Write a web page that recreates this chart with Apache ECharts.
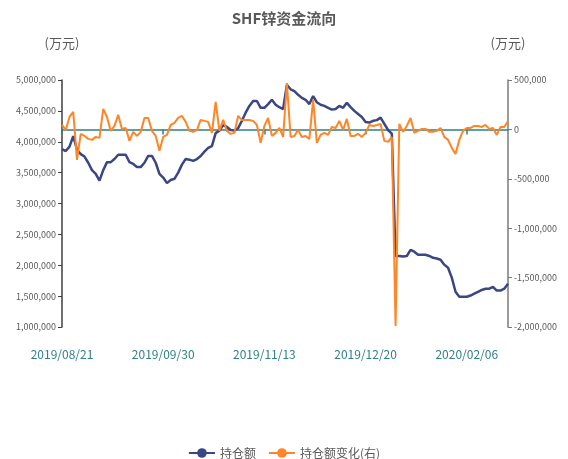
<!DOCTYPE html>
<html>
<head>
<meta charset="utf-8">
<script src="https://cdn.jsdelivr.net/npm/echarts@6/dist/echarts.min.js"></script>
<style>
html,body{margin:0;padding:0;background:#fff;}
#c{width:568px;height:459px;}
</style>
</head>
<body>
<div id="c"></div>
<script>
const dates = [
'2019/08/21','2019/08/22','2019/08/23','2019/08/26','2019/08/27','2019/08/28','2019/08/29','2019/08/30',
'2019/09/02','2019/09/03','2019/09/04','2019/09/05','2019/09/06','2019/09/09','2019/09/10','2019/09/11','2019/09/12',
'2019/09/16','2019/09/17','2019/09/18','2019/09/19','2019/09/20','2019/09/23','2019/09/24','2019/09/25','2019/09/26','2019/09/27','2019/09/30',
'2019/10/08','2019/10/09','2019/10/10','2019/10/11','2019/10/14','2019/10/15','2019/10/16','2019/10/17','2019/10/18',
'2019/10/21','2019/10/22','2019/10/23','2019/10/24','2019/10/25','2019/10/28','2019/10/29','2019/10/30','2019/10/31',
'2019/11/01','2019/11/04','2019/11/05','2019/11/06','2019/11/07','2019/11/08','2019/11/11','2019/11/12','2019/11/13',
'2019/11/14','2019/11/15','2019/11/18','2019/11/19','2019/11/20','2019/11/21','2019/11/22','2019/11/25','2019/11/26','2019/11/27','2019/11/28','2019/11/29',
'2019/12/02','2019/12/03','2019/12/04','2019/12/05','2019/12/06','2019/12/09','2019/12/10','2019/12/11','2019/12/12','2019/12/13',
'2019/12/16','2019/12/17','2019/12/18','2019/12/19','2019/12/20','2019/12/23','2019/12/24','2019/12/25','2019/12/26','2019/12/27','2019/12/30','2019/12/31',
'2020/01/02','2020/01/03','2020/01/06','2020/01/07','2020/01/08','2020/01/09','2020/01/10','2020/01/13','2020/01/14','2020/01/15','2020/01/16','2020/01/17',
'2020/01/20','2020/01/21','2020/01/22','2020/01/23','2020/02/03','2020/02/04','2020/02/05','2020/02/06',
'2020/02/07','2020/02/10','2020/02/11','2020/02/12','2020/02/13','2020/02/14','2020/02/17','2020/02/18','2020/02/19','2020/02/20','2020/02/21'
];

const holding = [
3880000,3850000,3920000,4090000,3870000,3800000,3760000,3660000,3540000,3480000,
3370000,3540000,3670000,3670000,3720000,3790000,3790000,3790000,3670000,3640000,
3590000,3590000,3660000,3770000,3770000,3660000,3480000,3420000,3330000,3380000,
3400000,3500000,3630000,3720000,3710000,3690000,3720000,3770000,3840000,3900000,
3930000,4140000,4180000,4270000,4240000,4190000,4180000,4220000,4340000,4470000,
4580000,4660000,4660000,4550000,4550000,4610000,4680000,4600000,4560000,4530000,
4920000,4850000,4820000,4760000,4710000,4680000,4610000,4740000,4640000,4600000,
4580000,4550000,4520000,4530000,4580000,4550000,4630000,4560000,4500000,4450000,
4400000,4320000,4310000,4340000,4350000,4390000,4290000,4190000,4130000,2150000,
2150000,2140000,2150000,2250000,2220000,2170000,2170000,2170000,2150000,2120000,
2110000,2090000,2010000,1960000,1800000,1570000,1490000,1490000,1490000,1510000,
1540000,1570000,1600000,1620000,1620000,1650000,1590000,1590000,1620000,1700000
];

const holdingChange = [
45000,-5000,126000,177000,-308000,-45000,-66000,-96000,-106000,-76000,
-86000,207000,126000,-15000,35000,147000,5000,15000,-116000,-25000,
-66000,-25000,116000,116000,-15000,-66000,-217000,-76000,-56000,45000,
66000,116000,136000,76000,-15000,-25000,-5000,96000,86000,76000,
-35000,278000,-15000,96000,-15000,-45000,-35000,136000,96000,96000,
96000,86000,45000,-136000,35000,116000,-66000,-35000,15000,-76000,
470000,-76000,-66000,-5000,-76000,-66000,-96000,298000,-136000,-56000,
-35000,-56000,25000,15000,86000,-5000,106000,-66000,-66000,-45000,
-76000,-35000,45000,35000,45000,56000,-116000,-126000,-76000,-1990000,
56000,-25000,35000,116000,-35000,-15000,5000,5000,-25000,-25000,
-15000,15000,-76000,-106000,-187000,-248000,-106000,-15000,15000,15000,
35000,35000,25000,45000,5000,15000,-56000,25000,25000,86000
];

const seriesNames = ['持仓额','持仓额变化(右)'];
const titleText = 'SHF锌资金流向';
const unitName = '(万元)';

const fmt = v => String(v).replace(/\B(?=(\d{3})+(?!\d))/g, ',');
const FONT = '"Noto Sans CJK SC", "Noto Sans", sans-serif';
const GRAY = '#595959';
const TEAL = '#2f8088';

const chart = echarts.init(document.getElementById('c'), null, {renderer:'canvas'});
chart.setOption({
  animation: false,
  backgroundColor: '#ffffff',
  textStyle: {fontFamily: FONT},
  title: {
    text: titleText,
    left: 'center',
    top: 6,
    textStyle: {fontSize: 15, fontWeight: 'bold', color: GRAY, fontFamily: FONT}
  },
  legend: {
    top: 442,
    left: 'center',
    itemWidth: 26,
    itemHeight: 12,
    itemGap: 12,
    textStyle: {fontSize: 12, color: GRAY, fontFamily: FONT},
    data: seriesNames
  },
  grid: {left: 62, right: 60, top: 80, bottom: 132, containLabel: false},
  xAxis: [
    {
      type: 'category',
      data: dates,
      boundaryGap: false,
      position: 'bottom',
      axisLine: {show: false, onZero: false},
      axisTick: {show: false},
      axisLabel: {interval: 26, color: TEAL, fontSize: 12, margin: 21, fontFamily: FONT},
      splitLine: {show: false}
    },
    {
      type: 'category',
      data: dates,
      boundaryGap: false,
      position: 'bottom',
      axisLine: {show: true, onZero: true, onZeroAxisIndex: 1, lineStyle: {color: TEAL, width: 1.5}},
      axisTick: {show: true, interval: 26, length: 5, lineStyle: {color: TEAL, width: 1.5}},
      axisLabel: {show: false},
      splitLine: {show: false}
    }
  ],
  yAxis: [
    {
      type: 'value',
      min: 1000000, max: 5000000, interval: 500000,
      position: 'left',
      name: unitName,
      nameLocation: 'end',
      nameGap: 30,
      nameTextStyle: {color: GRAY, fontSize: 13, align: 'center', fontFamily: FONT},
      axisLine: {show: true, lineStyle: {color: '#404040', width: 1.5}},
      axisTick: {show: true, length: 4, lineStyle: {color: '#404040'}},
      axisLabel: {color: GRAY, fontSize: 9, margin: 6, formatter: fmt, fontFamily: FONT},
      splitLine: {show: false}
    },
    {
      type: 'value',
      min: -2000000, max: 500000, interval: 500000,
      position: 'right',
      name: unitName,
      nameLocation: 'end',
      nameGap: 30,
      nameTextStyle: {color: GRAY, fontSize: 13, align: 'center', fontFamily: FONT},
      axisLine: {show: true, lineStyle: {color: '#7a7a7a', width: 1.5}},
      axisTick: {show: true, length: 4, lineStyle: {color: '#7a7a7a'}},
      axisLabel: {color: GRAY, fontSize: 9, margin: 6, formatter: fmt, fontFamily: FONT},
      splitLine: {show: false}
    }
  ],
  series: [
    {
      name: seriesNames[0],
      type: 'line',
      xAxisIndex: 0,
      yAxisIndex: 0,
      data: holding,
      symbol: 'circle',
      symbolSize: 10,
      showSymbol: false,
      lineStyle: {color: '#3a4784', width: 2.5},
      itemStyle: {color: '#3a4784'},
      z: 3
    },
    {
      name: seriesNames[1],
      type: 'line',
      xAxisIndex: 0,
      yAxisIndex: 1,
      data: holdingChange,
      symbol: 'circle',
      symbolSize: 10,
      showSymbol: false,
      lineStyle: {color: '#ff8526', width: 2},
      itemStyle: {color: '#ff8526'},
      z: 4
    }
  ]
});
</script>
</body>
</html>
